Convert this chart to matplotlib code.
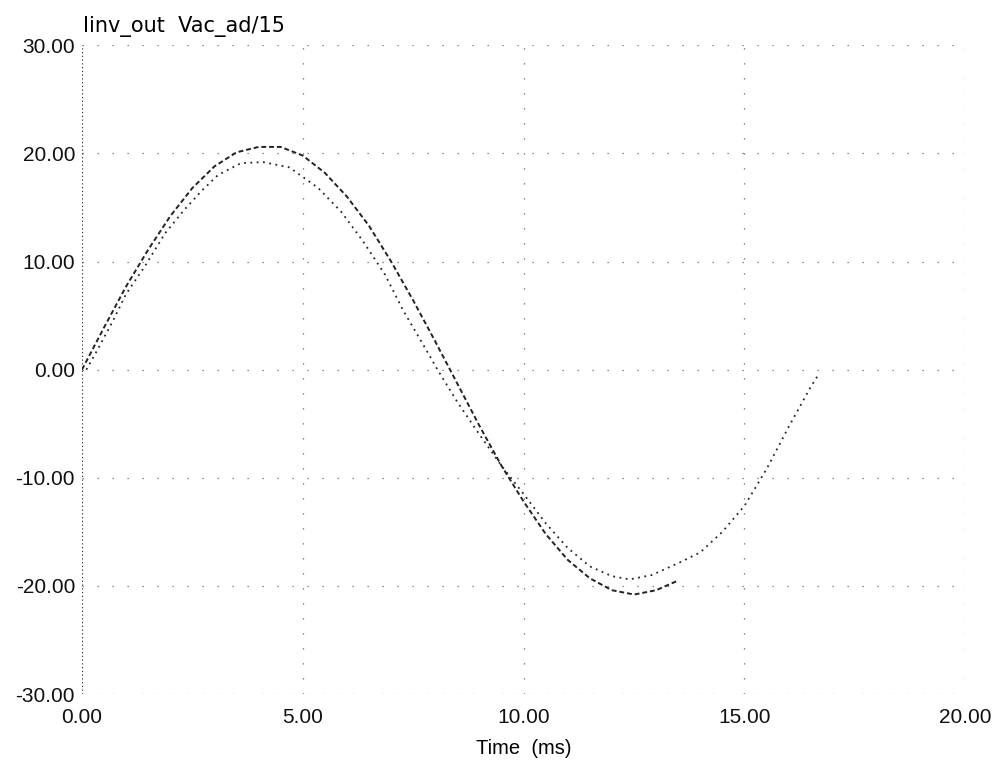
import matplotlib
matplotlib.use("Agg")
import matplotlib.pyplot as plt

plt.rcParams['font.family'] = ['Liberation Sans', 'DejaVu Sans']

# Iinv_out (outer curve)
t_iinv = [0, 0.5, 1.0, 1.5, 2.0, 2.5, 3.0, 3.5, 4.0, 4.5, 5.0, 5.5, 6.0, 6.5,
          7.0, 7.5, 8.0, 8.5, 9.0, 9.5, 10.0, 10.5, 11.0, 11.5, 12.0, 12.5,
          13.0, 13.5]
iinv_out = [0, 3.9, 7.7, 11.1, 14.2, 16.8, 18.8, 20.1, 20.6, 20.6, 19.8, 18.2,
            16.0, 13.3, 10.0, 6.4, 2.6, -1.3, -5.2, -8.9, -12.2, -15.2, -17.6,
            -19.3, -20.4, -20.8, -20.4, -19.5]

# Vac_ad/15 (inner curve)
t_vac = [0.1, 0.36, 0.7, 1.0, 1.43, 1.88, 2.3, 2.7, 3.08, 3.6, 4.1, 4.7, 5.35,
         5.87, 6.36, 6.86, 7.27, 7.77, 8.05, 8.5, 9.0, 9.5, 10.0, 10.5, 11.0,
         11.5, 12.0, 12.4, 12.9, 13.5, 14.0, 14.5, 15.0, 15.5, 16.0, 16.5, 16.7]
vac_ad15 = [0, 1.9, 4.5, 7.0, 9.6, 12.6, 14.7, 16.5, 18.0, 19.1, 19.2, 18.7,
            16.8, 14.6, 11.9, 8.8, 5.5, 2.0, 0, -3.0, -6.0, -8.9, -11.5, -14.2,
            -16.5, -18.2, -19.1, -19.4, -19.0, -17.9, -16.9, -15.0, -12.6,
            -9.2, -5.3, -1.6, -0.3]

x_ticks = [0, 5, 10, 15, 20]
x_labels = ["0.00", "5.00", "10.00", "15.00", "20.00"]
y_ticks = [-30, -20, -10, 0, 10, 20, 30]
y_labels = ["-30.00", "-20.00", "-10.00", "0.00", "10.00", "20.00", "30.00"]

fig = plt.figure(figsize=(9.97, 7.65), dpi=100)
ax = fig.add_axes([0.0822, 0.0928, 0.886, 0.848])

for y in y_ticks:
    ax.axhline(y, color='#666666', lw=0.9, ls=(0, (1, 11)), zorder=1)
for x in x_ticks[1:]:
    ax.axvline(x, color='#666666', lw=0.9, ls=(0, (1, 11)), zorder=1)
ax.axvline(0, color='#333333', lw=0.9, ls=(0, (1, 2)), zorder=1)

ax.plot(t_iinv, iinv_out, color='#222222', lw=1.4, ls=(0, (2.5, 1.5)), zorder=3)
ax.plot(t_vac, vac_ad15, color='#222222', lw=1.3, ls=(0, (1, 2.5)), zorder=3)

ax.set_xlim(0, 20)
ax.set_ylim(-30, 30)
ax.set_xticks(x_ticks)
ax.set_xticklabels(x_labels)
ax.set_yticks(y_ticks)
ax.set_yticklabels(y_labels)
ax.tick_params(length=0, labelsize=15, colors='#111111')
ax.tick_params(axis='x', pad=10)
ax.tick_params(axis='y', pad=5)
for s in ax.spines.values():
    s.set_visible(False)

ax.set_xlabel("Time  (ms)", fontsize=14.5, labelpad=9)
fig.text(0.083, 0.966, "Iinv_out  Vac_ad/15", fontsize=15, ha='left',
         va='center', family=['DejaVu Sans'])

fig.savefig("out.png", dpi=100, facecolor='white')
